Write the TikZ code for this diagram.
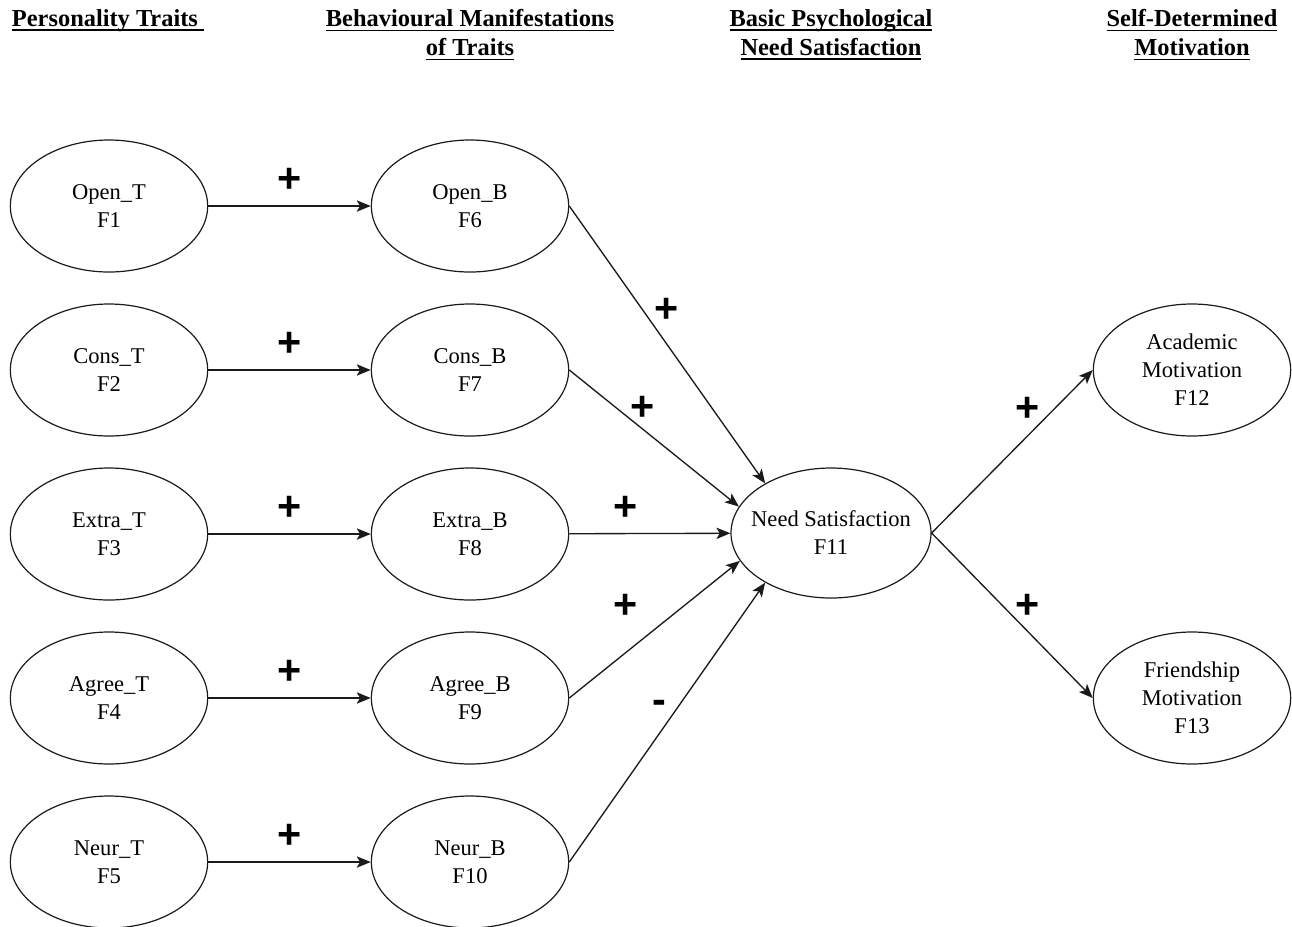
\documentclass[tikz,border=0pt]{standalone}
\usepackage{fontspec}
\setmainfont{Liberation Serif}
\newfontfamily\signfont{Liberation Sans}
\usepackage{tikz}
\usetikzlibrary{arrows.meta,positioning,shapes.geometric}
\definecolor{pathInk}{HTML}{1A1A1A}
\newcommand{\headrule}[1]{\setbox0\hbox{#1}\rlap{\rule[-3.4pt]{\wd0}{1.1pt}}\box0}
\tikzset{
  factor/.style={
    ellipse,
    draw=pathInk,
    line width=0.9pt,
    minimum width=148pt,
    minimum height=99pt,
    inner xsep=-12pt,
    inner ysep=0pt,
    align=center,
    font=\fontsize{16.9}{21}\selectfont
  },
  heading/.style={
    anchor=north,
    align=center,
    inner sep=0pt,
    font=\fontsize{18.3}{21.8}\selectfont\bfseries
  },
  arrow/.style={
    -{Stealth[length=10.5pt,width=8.5pt,inset=2.5pt]},
    line width=1pt,
    draw=pathInk
  },
  sign/.style={
    inner sep=0pt,
    font=\signfont\bfseries\fontsize{31}{31}\selectfont
  }
}
\begin{document}
\begin{tikzpicture}[x=0.75pt,y=-0.75pt]
  \useasboundingbox (0,0) rectangle (1292,926);
  % column headings
  \node[heading] (headTraits) at (108,9) {\headrule{Personality Traits\ }};
  \node[heading] (headBehav) at (470,9) {\headrule{Behavioural Manifestations}\\\headrule{of Traits}};
  \node[heading] (headNeed) at (831,9) {\headrule{Basic Psychological}\\\headrule{Need Satisfaction}};
  \node[heading] (headMotiv) at (1192,9) {\headrule{Self-Determined}\\\headrule{Motivation}};
  % traits
  \node[factor] (openT) at (109,206) {Open\_T\\F1};
  \node[factor] (consT) at (109,370) {Cons\_T\\F2};
  \node[factor] (extraT) at (109,534) {Extra\_T\\F3};
  \node[factor] (agreeT) at (109,698) {Agree\_T\\F4};
  \node[factor] (neurT) at (109,862) {Neur\_T\\F5};
  % behaviours
  \node[factor] (openB) at (470,206) {Open\_B\\F6};
  \node[factor] (consB) at (470,370) {Cons\_B\\F7};
  \node[factor] (extraB) at (470,534) {Extra\_B\\F8};
  \node[factor] (agreeB) at (470,698) {Agree\_B\\F9};
  \node[factor] (neurB) at (470,862) {Neur\_B\\F10};
  % need satisfaction and motivation
  \node[factor,minimum width=150pt,minimum height=97.5pt] (needSat) at (831,533) {Need Satisfaction\\F11};
  \node[factor] (acadMot) at (1192,370) {Academic\\Motivation\\F12};
  \node[factor] (friendMot) at (1192,698) {Friendship\\Motivation\\F13};
  % paths
  \draw[arrow] (openT) -- (openB);
  \draw[arrow] (consT) -- (consB);
  \draw[arrow] (extraT) -- (extraB);
  \draw[arrow] (agreeT) -- (agreeB);
  \draw[arrow] (neurT) -- (neurB);
  \draw[arrow] (openB.east) -- (needSat.143);
  \draw[arrow] (consB.east) -- (needSat.164);
  \draw[arrow] (extraB) -- (needSat);
  \draw[arrow] (agreeB.east) -- (needSat.197);
  \draw[arrow] (neurB.east) -- (needSat.217);
  \draw[arrow] (needSat.east) -- (acadMot.west);
  \draw[arrow] (needSat.east) -- (friendMot.west);
  % signs
  \node[sign] (signOpenT) at (290,180) {+};
  \node[sign] (signConsT) at (290,344) {+};
  \node[sign] (signExtraT) at (290,508) {+};
  \node[sign] (signAgreeT) at (290,672) {+};
  \node[sign] (signNeurT) at (290,836) {+};
  \node[sign] (signOpenB) at (667,310) {+};
  \node[sign] (signConsB) at (643,408) {+};
  \node[sign] (signExtraB) at (626,508) {+};
  \node[sign] (signAgreeB) at (626,606) {+};
  \node[sign] (signNeurB) at (659,707) {-};
  \node[sign] (signAcad) at (1028,409) {+};
  \node[sign] (signFriend) at (1028,606) {+};
\end{tikzpicture}
\end{document}
